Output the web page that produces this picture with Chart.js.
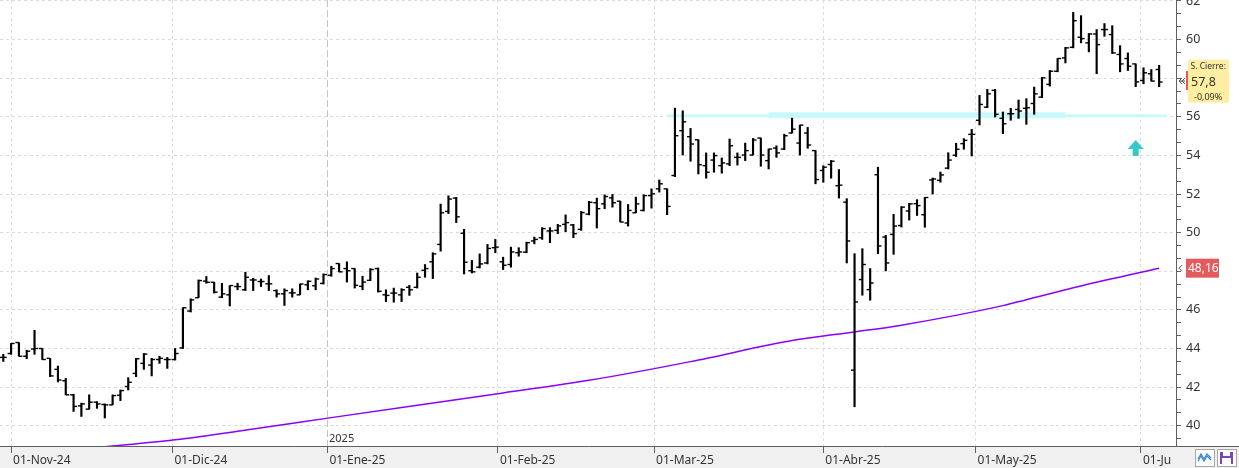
<!DOCTYPE html>
<html>
<head>
<meta charset="utf-8">
<script src="https://cdn.jsdelivr.net/npm/chart.js@4.4.1/dist/chart.umd.min.js"></script>
<style>
    html, body { margin: 0; padding: 0; background: #fff; }
    #wrap { width: 1239px; height: 468px; }
</style>
</head>
<body>
<div id="wrap"><canvas id="chart" width="1239" height="468"></canvas></div>
<script>
// trading days: 31-Oct-24 .. 04-Jun-25, weekends and market holidays skipped
const firstDay = "2024-10-31";
const lastDay = "2025-06-04";
const holidays = ["2024-12-25", "2024-12-26", "2025-01-01", "2025-04-18", "2025-04-21", "2025-05-01"];
const monthNames = ["Ene", "Feb", "Mar", "Abr", "May", "Jun", "Jul", "Ago", "Sep", "Oct", "Nov", "Dic"];

const opens = [43.54, 43.74, 44.31, 43.6, 43.97, 44.0, 43.49, 42.92, 42.33, 41.6,
    41.03, 40.86, 41.22, 41.1, 41.08, 41.58, 42.03, 42.71, 43.23, 43.14,
    43.43, 43.43, 43.43, 44.03, 45.94, 46.63, 47.49, 47.43, 46.66, 46.78,
    47.21, 47.04, 47.55, 47.47, 47.35, 47.0, 46.83, 46.88, 46.78, 47.3,
    47.25, 47.37, 47.79, 48.4, 48.14, 48.14, 47.22, 47.53, 48.14, 46.78,
    46.87, 46.78, 47.17, 47.17, 48.05, 48.49, 49.39, 51.1, 51.79, 49.97,
    48.03, 48.21, 48.43, 49.22, 48.49, 48.35, 48.96, 48.99, 49.57, 49.74,
    50.09, 50.12, 50.43, 50.4, 50.17, 50.96, 51.55, 51.49, 51.8, 51.63,
    50.5, 51.03, 51.15, 51.92, 52.27, 52.27, 52.96, 55.28, 54.97, 54.81,
    53.47, 53.76, 53.47, 53.56, 53.9, 54.02, 54.02, 54.9, 53.73, 54.38,
    54.33, 55.16, 54.64, 55.16, 54.25, 53.22, 53.53, 52.43, 51.58, 42.88,
    47.57, 47.05, 53.0, 49.77, 49.91, 50.37, 51.12, 51.5, 50.93, 52.73,
    52.71, 53.34, 54.01, 54.61, 55.09, 55.82, 56.5, 57.37, 55.92, 56.16,
    56.38, 56.44, 56.69, 57.02, 57.68, 58.36, 59.05, 59.6, 60.12, 59.83,
    60.29, 60.52, 60.26, 59.23, 59.02, 58.74, 57.88, 58.23, 58.45];

const highs = [43.7, 44.26, 44.31, 43.91, 44.94, 44.0, 43.49, 43.09, 42.45, 41.63,
    41.17, 41.6, 41.25, 41.13, 41.6, 41.85, 42.49, 43.49, 43.74, 43.49,
    43.6, 43.54, 44.0, 46.11, 46.57, 47.55, 47.73, 47.43, 47.38, 47.26,
    47.38, 47.95, 47.64, 47.6, 47.78, 47.04, 47.09, 47.09, 47.34, 47.51,
    47.65, 47.86, 48.26, 48.4, 48.49, 48.14, 47.74, 48.14, 48.17, 47.04,
    47.13, 47.1, 47.27, 47.91, 48.35, 48.96, 51.48, 51.91, 51.83, 50.17,
    48.56, 48.9, 49.39, 49.65, 48.73, 49.25, 49.22, 49.51, 49.77, 50.26,
    50.26, 50.43, 50.92, 50.43, 51.1, 51.62, 51.79, 51.96, 51.98, 51.63,
    51.46, 51.84, 51.96, 52.27, 52.73, 52.27, 56.45, 56.31, 55.4, 54.81,
    54.13, 54.13, 53.87, 54.85, 54.13, 54.64, 54.88, 54.9, 54.33, 54.5,
    55.1, 55.93, 55.57, 55.45, 54.25, 53.47, 53.74, 53.27, 51.76, 48.91,
    49.17, 48.14, 53.39, 49.86, 50.95, 51.35, 51.52, 51.71, 51.83, 52.83,
    53.14, 54.14, 54.63, 54.87, 55.35, 57.11, 57.42, 57.42, 56.25, 56.44,
    56.87, 56.94, 57.54, 58.05, 58.4, 59.02, 59.6, 61.41, 61.24, 60.31,
    60.52, 60.83, 60.72, 59.69, 59.31, 58.74, 58.54, 58.45, 58.67];

const lows = [43.33, 43.7, 43.6, 43.47, 43.7, 43.43, 42.54, 42.27, 41.6, 40.74,
    40.48, 40.86, 40.9, 40.4, 41.08, 41.3, 41.85, 42.54, 42.92, 42.58,
    43.23, 42.97, 43.4, 44.0, 45.89, 46.63, 47.38, 46.87, 46.63, 46.2,
    47.04, 47.0, 47.0, 47.21, 47.0, 46.66, 46.23, 46.66, 46.78, 47.04,
    47.04, 47.34, 47.74, 47.97, 47.44, 47.13, 47.04, 47.51, 46.92, 46.43,
    46.4, 46.43, 46.75, 47.13, 47.69, 47.62, 49.04, 50.99, 50.52, 47.86,
    47.91, 48.17, 48.38, 48.96, 48.09, 48.21, 48.78, 48.96, 49.42, 49.65,
    49.48, 49.95, 50.05, 49.74, 50.12, 50.92, 50.24, 51.24, 51.32, 50.55,
    50.34, 51.03, 51.12, 51.27, 52.1, 50.93, 52.9, 54.02, 53.7, 53.04,
    52.82, 53.13, 53.08, 53.47, 53.5, 53.73, 54.02, 53.44, 53.3, 53.9,
    54.3, 55.16, 54.02, 54.37, 52.53, 52.61, 52.82, 51.79, 48.43, 40.98,
    46.76, 46.5, 48.91, 48.02, 48.88, 50.29, 50.65, 50.89, 50.28, 52.0,
    52.61, 53.3, 53.94, 54.32, 53.97, 55.58, 56.47, 55.99, 55.13, 55.82,
    55.92, 55.61, 56.13, 56.99, 57.59, 58.33, 58.79, 59.57, 59.83, 59.36,
    58.23, 60.17, 59.28, 58.33, 58.4, 57.56, 57.71, 57.85, 57.56];

const closes = [43.54, 44.26, 43.6, 43.86, 44.0, 43.43, 42.58, 42.37, 41.6, 41.0,
    41.13, 41.22, 41.13, 41.08, 41.56, 41.82, 42.25, 43.47, 43.71, 43.43,
    43.49, 43.43, 43.74, 46.11, 46.52, 47.52, 47.43, 46.92, 46.83, 47.26,
    47.21, 47.69, 47.55, 47.47, 47.35, 46.83, 47.0, 46.88, 47.34, 47.48,
    47.6, 47.83, 48.14, 47.97, 48.03, 47.27, 47.44, 48.09, 46.96, 46.75,
    46.87, 47.04, 47.04, 47.69, 48.14, 48.9, 51.03, 51.74, 50.82, 48.47,
    47.97, 48.38, 49.18, 49.25, 48.31, 49.0, 49.0, 49.48, 49.65, 50.21,
    50.09, 50.35, 50.52, 49.95, 51.04, 51.57, 51.24, 51.87, 51.55, 50.55,
    51.15, 51.49, 51.92, 52.01, 52.53, 51.36, 55.02, 55.74, 54.59, 53.52,
    53.13, 53.99, 53.61, 54.5, 53.9, 54.25, 54.8, 54.02, 54.33, 54.13,
    55.02, 55.36, 55.57, 54.54, 52.75, 53.39, 53.7, 52.46, 49.57, 46.41,
    48.35, 47.39, 49.31, 48.43, 50.34, 51.32, 51.49, 51.4, 51.82, 52.78,
    52.99, 53.76, 54.32, 54.78, 55.09, 56.64, 57.19, 56.13, 55.64, 56.16,
    56.3, 56.47, 57.19, 58.02, 58.36, 59.02, 59.57, 60.98, 60.05, 60.29,
    59.74, 60.52, 59.31, 58.74, 58.62, 57.81, 58.28, 57.85, 57.8];

// long moving average, read at a few sessions (index into tradingDays)
const maIdx = [0, 14, 22, 32, 42, 64, 75, 88, 101, 109, 115, 128, 131, 138, 148];
const maVal = [38.4, 38.95, 39.27, 39.83, 40.42, 41.7, 42.35, 43.32, 44.41, 44.86, 45.21, 46.22, 46.53, 47.24, 48.16];

// resistance level (cyan): full line plus the heavier middle stretch
const levelIdx = [85, 149];
const levelVal = [56.05, 56.05];
const zoneIdx = [98, 136];
const zoneVal = [56.08, 56.08];
const arrowIdx = 145;
const arrowVal = 54.8;

const yMin = 38.95;
const yMax = 62.05;

const tradingDays = [];
for (let d = new Date(firstDay + "T00:00:00Z"); d <= new Date(lastDay + "T00:00:00Z"); d.setUTCDate(d.getUTCDate() + 1)) {
    const iso = d.toISOString().slice(0, 10);
    const wd = d.getUTCDay();
    if (wd === 0 || wd === 6 || holidays.includes(iso)) continue;
    tradingDays.push(iso);
}

// month ticks sit where the 1st of the month falls between two sessions
const monthTicks = [];
for (let i = 1; i < tradingDays.length; i++) {
    if (tradingDays[i].slice(5, 7) === tradingDays[i - 1].slice(5, 7)) continue;
    const prev = Date.parse(tradingDays[i - 1]);
    const next = Date.parse(tradingDays[i]);
    const first = Date.parse(tradingDays[i].slice(0, 8) + "01");
    const m = parseInt(tradingDays[i].slice(5, 7)) - 1;
    monthTicks.push({
        value: i - 1 + (first - prev) / (next - prev),
        label: "01-" + monthNames[m] + "-" + tradingDays[i].slice(2, 4),
        yearStart: m === 0,
        year: tradingDays[i].slice(0, 4)
    });
}

const lastClose = closes[closes.length - 1];
const prevClose = closes[closes.length - 2];
const lastMa = maVal[maVal.length - 1];
const fmt = (v, d) => v.toFixed(d).replace(".", ",");

const isLabelled = v => Math.abs(v - Math.round(v)) < 0.01 && Math.round(v) % 2 === 0;

const decor = {
    id: "decor",
    beforeDraw(chart) {
        const { ctx, chartArea: a, width, height } = chart;
        ctx.save();
        ctx.fillStyle = "#ffffff";
        ctx.fillRect(0, 0, width, height);
        ctx.fillStyle = "#f0f0f0";
        ctx.fillRect(0, a.bottom, width, height - a.bottom);
        ctx.restore();
    },
    beforeDatasetsDraw(chart) {
        const { ctx, chartArea: a, scales } = chart;
        ctx.save();
        monthTicks.filter(t => t.yearStart).forEach(t => {
            const x = Math.round(scales.x.getPixelForValue(t.value)) + 0.5;
            ctx.strokeStyle = "#c4c4c4";
            ctx.lineWidth = 1;
            ctx.setLineDash([7, 3]);
            ctx.beginPath();
            ctx.moveTo(x, a.top);
            ctx.lineTo(x, a.bottom);
            ctx.stroke();
            ctx.setLineDash([]);
            ctx.fillStyle = "#333";
            ctx.font = "11px 'Noto Sans'";
            ctx.textBaseline = "alphabetic";
            ctx.fillText(t.year, x + 1.5, a.bottom - 4);
        });
        ctx.restore();
    },
    afterDatasetsDraw(chart) {
        const { ctx, scales } = chart;
        const x = scales.x.getPixelForValue(arrowIdx);
        const y = scales.y.getPixelForValue(arrowVal);
        ctx.save();
        ctx.fillStyle = "#35c9c9";
        ctx.beginPath();
        ctx.moveTo(x, y);
        ctx.lineTo(x + 8, y + 9);
        ctx.lineTo(x + 3, y + 9);
        ctx.lineTo(x + 3, y + 16);
        ctx.lineTo(x - 3, y + 16);
        ctx.lineTo(x - 3, y + 9);
        ctx.lineTo(x - 8, y + 9);
        ctx.closePath();
        ctx.fill();
        ctx.restore();
    },
    afterDraw(chart) {
        const { ctx, chartArea: a, scales, width, height } = chart;
        ctx.save();
        // clip the x labels that run under the price panel
        ctx.fillStyle = "#f0f0f0";
        ctx.fillRect(a.right - 4, a.bottom + 1, width - a.right + 4, height - a.bottom - 1);
        ctx.strokeStyle = "#606060";
        ctx.lineWidth = 1;
        ctx.beginPath();
        ctx.moveTo(a.right, a.bottom + 0.5);
        ctx.lineTo(width, a.bottom + 0.5);
        ctx.stroke();

        // last close box
        const cy = scales.y.getPixelForValue(lastClose);
        ctx.fillStyle = "#e25a5a";
        ctx.fillRect(a.right + 10, cy - 11, 3, 19);
        ctx.fillStyle = "#fdeea2";
        ctx.fillRect(a.right + 12, cy - 22.5, 41, 43);
        ctx.fillStyle = "#333";
        ctx.textBaseline = "middle";
        ctx.font = "8.5px 'Noto Sans'";
        ctx.fillText("S. Cierre:", a.right + 14.5, cy - 15.5);
        ctx.font = "12.5px 'Noto Sans'";
        ctx.fillText(fmt(lastClose, 1), a.right + 15, cy + 0.5);
        ctx.font = "9px 'Noto Sans'";
        ctx.fillText(fmt((lastClose - prevClose) / prevClose * 100, 2) + "%", a.right + 18, cy + 15);

        // chevrons pointing at the axis
        ctx.strokeStyle = "#555";
        ctx.lineWidth = 1;
        [[cy - 1, 2], [scales.y.getPixelForValue(lastMa), 1]].forEach(([py, n]) => {
            for (let k = 0; k < n; k++) {
                const px = a.right + 3 + k * 3;
                ctx.beginPath();
                ctx.moveTo(px + 3, py - 3);
                ctx.lineTo(px, py);
                ctx.lineTo(px + 3, py + 3);
                ctx.stroke();
            }
        });
        ctx.beginPath();
        ctx.moveTo(a.right + 3, cy - 1);
        ctx.lineTo(a.right + 9, cy - 1);
        ctx.stroke();

        // moving average value tag
        const my = scales.y.getPixelForValue(lastMa);
        ctx.fillStyle = "#e35b5b";
        ctx.fillRect(a.right + 10, my - 9.5, 33, 19);
        ctx.fillStyle = "#fff";
        ctx.font = "12px 'Noto Sans'";
        ctx.fillText(fmt(lastMa, 2), a.right + 12, my + 0.5);

        // bottom right buttons
        const by = a.bottom + 3;
        ctx.fillStyle = "#fbfbfb";
        ctx.strokeStyle = "#a8a8a8";
        ctx.fillRect(1195, by, 19, 17);
        ctx.strokeRect(1195.5, by + 0.5, 19, 17);
        ctx.strokeStyle = "#3b86d6";
        ctx.lineWidth = 1.2;
        [0, 4].forEach(off => {
            ctx.beginPath();
            ctx.moveTo(1198, by + 10 + off / 2);
            ctx.lineTo(1201, by + 5 + off / 2);
            ctx.lineTo(1204, by + 10 + off / 2);
            ctx.lineTo(1207, by + 5 + off / 2);
            ctx.lineTo(1211, by + 9 + off / 2);
            ctx.stroke();
        });
        ctx.fillStyle = "#fbfbfb";
        ctx.strokeStyle = "#a8a8a8";
        ctx.lineWidth = 1;
        ctx.fillRect(1217, by, 19, 17);
        ctx.strokeRect(1217.5, by + 0.5, 19, 17);
        ctx.fillStyle = "#7a45b8";
        ctx.fillRect(1220, by + 3, 13, 12);
        ctx.fillStyle = "#fff";
        ctx.fillRect(1223, by + 3, 7, 4);
        ctx.fillRect(1222, by + 9, 9, 6);
        ctx.restore();
    }
};

const ctx = document.getElementById("chart").getContext("2d");

new Chart(ctx, {
    type: "line",
    data: {
        datasets: [
            {
                label: "Apertura",
                data: opens.map((v, i) => ({ x: i, y: v })),
                showLine: false,
                pointStyle: "dash",
                pointRotation: 180,
                pointRadius: 3.5,
                pointHoverRadius: 3.5,
                pointBorderWidth: 1.4,
                pointBorderColor: "#000",
                order: 0
            },
            {
                label: "Cierre",
                data: closes.map((v, i) => ({ x: i, y: v })),
                showLine: false,
                pointStyle: "dash",
                pointRotation: 0,
                pointRadius: 3.5,
                pointHoverRadius: 3.5,
                pointBorderWidth: 1.4,
                pointBorderColor: "#000",
                order: 0
            },
            {
                type: "bar",
                label: "Rango",
                data: highs.map((h, i) => ({ x: i, y: [lows[i], h] })),
                backgroundColor: "#000",
                barThickness: 1.5,
                grouped: false,
                order: 1
            },
            {
                label: "Media",
                data: maIdx.map((x, i) => ({ x: x, y: maVal[i] })),
                borderColor: "#8a00ff",
                borderWidth: 1.5,
                pointRadius: 0,
                cubicInterpolationMode: "monotone",
                order: 2
            },
            {
                label: "Resistencia",
                data: levelIdx.map((x, i) => ({ x: x, y: levelVal[i] })),
                borderColor: "#c8f9fc",
                borderWidth: 3,
                pointRadius: 0,
                order: 3
            },
            {
                label: "Zona",
                data: zoneIdx.map((x, i) => ({ x: x, y: zoneVal[i] })),
                borderColor: "#c8f9fc",
                borderWidth: 6,
                pointRadius: 0,
                order: 4
            }
        ]
    },
    options: {
        responsive: false,
        animation: false,
        events: [],
        layout: { padding: 0, autoPadding: false },
        plugins: {
            legend: { display: false },
            tooltip: { enabled: false }
        },
        scales: {
            x: {
                type: "linear",
                position: "bottom",
                min: -0.42,
                max: 150.16,
                offset: false,
                afterBuildTicks: scale => {
                    scale.ticks = monthTicks.map(t => ({ value: t.value }));
                },
                afterFit: scale => {
                    scale.height = 22;
                    scale.paddingLeft = 0;
                    scale.paddingRight = 0;
                },
                ticks: {
                    autoSkip: false,
                    maxRotation: 0,
                    align: "start",
                    padding: 0,
                    color: "#333",
                    font: { family: "'Noto Sans'", size: 12 },
                    callback: (v, i) => "\u2009" + monthTicks[i].label
                },
                grid: {
                    offset: false,
                    color: c => (c.tick && monthTicks[c.index] && monthTicks[c.index].yearStart) ? "rgba(0,0,0,0)" : "#dcdcdc",
                    lineWidth: 1,
                    tickLength: 7,
                    tickColor: "#606060"
                },
                border: { color: "#606060", width: 1, dash: [3, 3] }
            },
            y: {
                type: "linear",
                position: "right",
                min: yMin,
                max: yMax,
                afterBuildTicks: scale => {
                    const ticks = [];
                    for (let k = 0; k <= 36; k++) ticks.push({ value: 38 + k * 2 / 3 });
                    scale.ticks = ticks.filter(t => t.value >= yMin && t.value <= yMax);
                },
                afterFit: scale => {
                    scale.width = 63;
                    scale.paddingTop = 0;
                    scale.paddingBottom = 0;
                },
                ticks: {
                    autoSkip: false,
                    padding: 5,
                    color: "#333",
                    font: { family: "'Noto Sans'", size: 12.5 },
                    callback: v => isLabelled(v) ? String(Math.round(v)) : ""
                },
                grid: {
                    color: c => (c.tick && isLabelled(c.tick.value)) ? "#dcdcdc" : "rgba(0,0,0,0)",
                    lineWidth: 1,
                    tickLength: 5,
                    tickColor: "#606060"
                },
                border: { color: "#606060", width: 1, dash: [3, 3] }
            }
        }
    },
    plugins: [decor]
});
</script>
</body>
</html>
